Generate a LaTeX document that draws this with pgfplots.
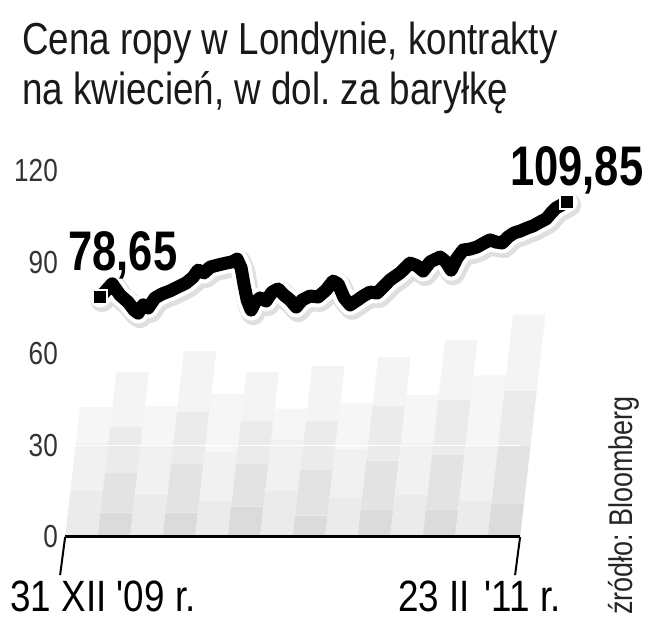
\documentclass[border=0pt]{standalone}
\usepackage{fontspec}
\setmainfont{Liberation Sans}[FakeStretch=0.82]
\newfontfamily\plainf{Liberation Sans}[FakeStretch=0.84]
\newfontfamily\boldc{Liberation Sans Bold}[FakeStretch=0.78]
\usepackage{pgfplots}
\pgfplotsset{compat=1.18}
\frenchspacing
\newcommand{\blk}[4]{%
  \pgfmathsetmacro\xa{-31.4+29.16*#1+0.312*#2}%
  \pgfmathsetmacro\xb{\xa+29.16}%
  \pgfmathsetmacro\xd{-31.4+29.16*#1+0.312*#3}%
  \pgfmathsetmacro\xc{\xd+29.16}%
  \edef\tmp{\noexpand\addplot[fill=black!#4,draw=none,forget plot] coordinates {(\xa,#2) (\xb,#2) (\xc,#3) (\xd,#3)};}\tmp}
\pgfplotstableread{
day value
0 78.65
10.8 83.0
17.9 79.3
25.1 77.0
30.5 74.4
34.1 73.4
38.6 76.1
43.1 75.1
49.3 78.4
55.6 79.7
62.8 80.7
70.0 82.0
77.2 83.3
83.4 85.2
87.9 87.5
93.3 86.6
98.7 88.5
105.9 89.2
113.0 89.8
118.4 90.2
122.9 91.1
126.5 88.2
129.2 82.6
131.9 77.7
135.5 74.4
139.1 77.0
143.6 78.4
148.9 77.4
154.3 80.3
159.7 81.3
165.1 79.3
170.5 77.7
175.9 75.4
181.2 77.7
188.4 79.0
195.6 78.7
202.8 81.0
209.0 83.9
213.5 83.0
218.9 78.4
224.3 76.1
229.7 77.4
236.0 79.0
242.2 80.3
248.5 80.0
254.8 82.3
260.2 84.3
269.2 86.6
278.1 89.8
284.4 88.9
289.8 87.2
296.1 90.2
305.0 91.8
310.4 90.2
314.9 87.5
320.3 91.5
325.7 94.1
332.0 94.4
338.2 95.1
344.5 96.4
349.9 97.4
355.3 96.7
360.7 96.4
366.1 98.4
371.4 99.7
376.8 100.3
383.1 101.3
388.5 102.0
394.8 103.3
400.2 104.3
404.6 106.2
409.1 107.9
419 109.85
}\brent
\begin{document}
\begin{tikzpicture}
\useasboundingbox (0,0) rectangle (650bp,640bp);
\node[anchor=base west, inner sep=0pt, text=black!90] at (22bp,585bp) {\fontsize{45}{45}\selectfont Cena ropy w Londynie, kontrakty};
\node[anchor=base west, inner sep=0pt, text=black!90] at (22bp,535bp) {\fontsize{45}{45}\selectfont na kwiecień, w dol. za baryłkę};
\node[anchor=base west, inner sep=0pt, rotate=90, text=black!85] at (632bp,25bp) {\fontsize{33}{33}\selectfont źródło: Bloomberg};
\begin{axis}[
  at={(60bp,103bp)}, anchor=south west, scale only axis,
  width=520.5bp, height=396.5bp,
  xmin=-36, xmax=431, ymin=0, ymax=130, clip=false,
  axis line style={draw=none}, xtick=\empty, ytick={0,30,60,90,120},
  major tick length=0pt,
  /pgf/number format/assume math mode=true,
  yticklabel style={font=\fontsize{32}{32}\selectfont, text=black!80, anchor=east, inner sep=0pt, xshift=-2bp},
]
% decorative background blocks (odd: darker columns)
\blk{0}{0}{15}{8}\blk{0}{15}{31}{5.5}\blk{0}{31}{42.6}{3.5}
\blk{1}{0}{8}{14}\blk{1}{8}{21}{11}\blk{1}{21}{36}{8}\blk{1}{36}{54}{4.5}
\blk{2}{0}{14}{8}\blk{2}{14}{30}{5.5}\blk{2}{30}{43}{3.5}
\blk{3}{0}{8}{14}\blk{3}{8}{24}{11}\blk{3}{24}{41}{8}\blk{3}{41}{61}{4.5}
\blk{4}{0}{12}{8}\blk{4}{12}{28}{5.5}\blk{4}{28}{47}{3.5}
\blk{5}{0}{10}{14}\blk{5}{10}{24}{11}\blk{5}{24}{38}{8}\blk{5}{38}{54}{4.5}
\blk{6}{0}{15}{8}\blk{6}{15}{32}{5.5}\blk{6}{32}{42}{3.5}
\blk{7}{0}{7}{14}\blk{7}{7}{22}{11}\blk{7}{22}{38}{8}\blk{7}{38}{56}{4.5}
\blk{8}{0}{13}{8}\blk{8}{13}{29}{5.5}\blk{8}{29}{44}{3.5}
\blk{9}{0}{9}{14}\blk{9}{9}{25}{11}\blk{9}{25}{43}{8}\blk{9}{43}{59}{4.5}
\blk{10}{0}{14}{8}\blk{10}{14}{31}{5.5}\blk{10}{31}{46.5}{3.5}
\blk{11}{0}{9}{14}\blk{11}{9}{27}{11}\blk{11}{27}{45}{8}\blk{11}{45}{64.6}{4.5}
\blk{12}{0}{12}{8}\blk{12}{12}{30}{5.5}\blk{12}{30}{53}{3.5}
\blk{13}{0}{11}{14}\blk{13}{11}{30}{11}\blk{13}{30}{48}{8}\blk{13}{48}{73}{4.5}
\addplot[white, line width=1.5bp, forget plot] coordinates {(-22,30) (376.8,30)};
% base line and slanted ticks
\addplot[black, line width=3bp, forget plot] coordinates {(-31.4,0) (376.8,0)};
\addplot[black, line width=2bp, forget plot] coordinates {(-31.4,0) (-35.9,-12.5)};
\addplot[black, line width=2bp, forget plot] coordinates {(376.8,0) (372.3,-12.5)};
% price line
\addplot[black!25, opacity=0.5, line width=24bp, line join=round, line cap=round, forget plot, xshift=2bp, yshift=-3bp] table {\brent};
\addplot[white, line width=21bp, line join=round, line cap=round, forget plot] table {\brent};
\addplot[black, line width=13bp, line join=round, line cap=round, forget plot] table {\brent};
\addplot[only marks, mark=square*, mark size=7bp, mark options={fill=black, draw=white, line width=2bp}, forget plot] coordinates {(0,78.65) (419,109.85)};
\node[anchor=base west, inner sep=0pt] at (axis cs:-28.7,87.5) {\boldc\fontsize{56}{56}\selectfont 78,65};
\node[anchor=base west, inner sep=0pt] at (axis cs:367.8,115.4) {\boldc\fontsize{56}{56}\selectfont 109,85};
\node[anchor=base west, inner sep=0pt] at (axis cs:-80.7,-24.3) {\plainf\fontsize{44}{44}\selectfont 31 XII '09 r.};
\node[anchor=base west, inner sep=0pt] at (axis cs:267.4,-24.3) {\plainf\fontsize{44}{44}\selectfont 23 II\hspace{0.1em} '11 r.};
\end{axis}
\end{tikzpicture}
\end{document}
